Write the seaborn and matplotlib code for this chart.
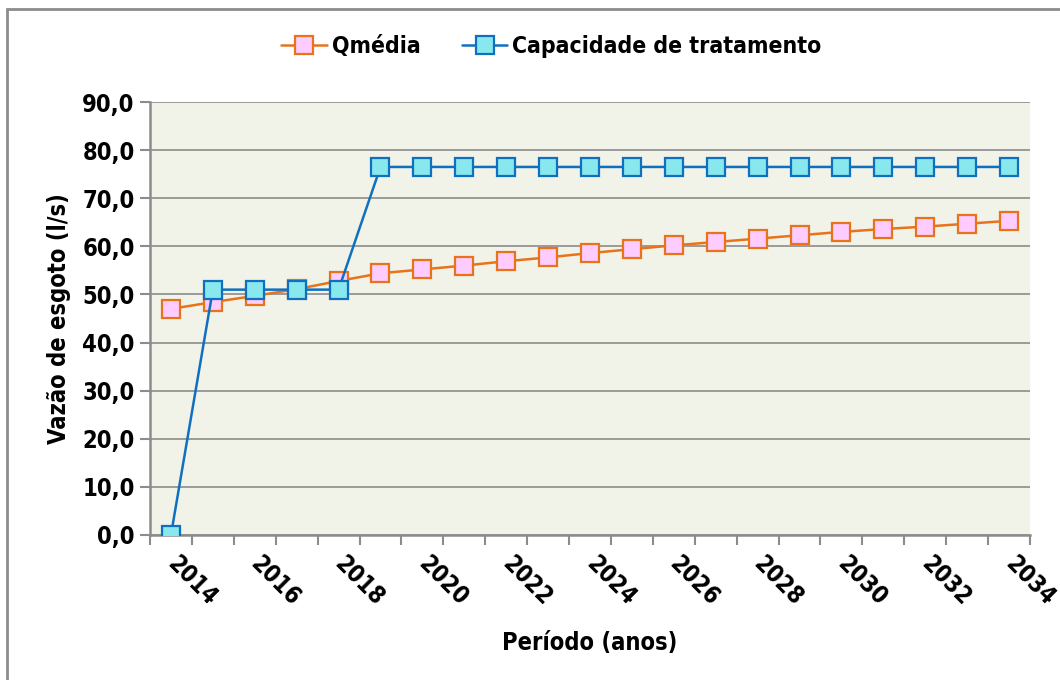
import matplotlib
matplotlib.use("Agg")
import matplotlib.pyplot as plt
import matplotlib.font_manager as fm
from matplotlib.ticker import FixedLocator, FuncFormatter
from matplotlib.patches import Rectangle
import seaborn as sns
import pandas as pd

years = list(range(2014, 2035))
qmedia = [47.0, 48.4, 49.7, 51.1, 52.8, 54.4, 55.2, 56.0, 56.9, 57.7, 58.6,
          59.4, 60.2, 60.9, 61.6, 62.3, 63.0, 63.6, 64.1, 64.7, 65.3]
capacidade = [0.0, 51.0, 51.0, 51.0, 51.0, 76.5, 76.5, 76.5, 76.5, 76.5, 76.5,
              76.5, 76.5, 76.5, 76.5, 76.5, 76.5, 76.5, 76.5, 76.5, 76.5]
series_names = ["Qmédia", "Capacidade de tratamento"]
yticks = [0, 10, 20, 30, 40, 50, 60, 70, 80, 90]
xlabels_years = list(range(2014, 2035, 2))

sns.set_theme(style="white")
names = {f.name for f in fm.fontManager.ttflist}
stretch = "normal"
if "Liberation Sans Narrow" in names:
    fam = ["Liberation Sans Narrow", "DejaVu Sans"]
else:
    fam = ["DejaVu Sans"]
    stretch = "condensed"
plt.rcParams["font.family"] = fam
plt.rcParams["font.weight"] = "bold"
plt.rcParams["font.stretch"] = stretch
for k in ["text.color", "axes.labelcolor", "xtick.color", "ytick.color"]:
    plt.rcParams[k] = "black"

df = pd.DataFrame({
    "ano": years * 2,
    "valor": qmedia + capacidade,
    "serie": [series_names[0]] * len(years) + [series_names[1]] * len(years),
})

fig = plt.figure(figsize=(10.6, 6.8), dpi=100)
ax = fig.add_axes([150 / 1060, (680 - 535) / 680, 880 / 1060, 433 / 680])
ax.set_facecolor("#F1F3E8")

palette = {series_names[0]: "#E8731A", series_names[1]: "#1070C0"}
faces = {series_names[0]: "#FFCCFF", series_names[1]: "#88E8EE"}
for name in series_names:
    sub = df[df["serie"] == name]
    sns.lineplot(data=sub, x="ano", y="valor", ax=ax, color=palette[name],
                 lw=1.8, marker="s", markersize=13.5, markerfacecolor=faces[name],
                 markeredgecolor=palette[name], markeredgewidth=1.6,
                 label=name, zorder=3 if name == series_names[1] else 2)

ax.set_xlim(years[0] - 0.5, years[-1] + 0.5)
ax.set_ylim(0, 90)
ax.yaxis.set_major_locator(FixedLocator(yticks))
ax.yaxis.set_major_formatter(FuncFormatter(lambda v, p: f"{v:.1f}".replace(".", ",")))
ax.grid(axis="y", color="#8C8C8C", lw=1.2)
ax.set_axisbelow(True)

ax.xaxis.set_major_locator(FixedLocator(xlabels_years))
ax.set_xticklabels([str(y) for y in xlabels_years], rotation=-45, ha="left",
                   va="center", rotation_mode="anchor")
ax.xaxis.set_minor_locator(FixedLocator([y - 0.5 for y in years] + [years[-1] + 0.5]))
ax.tick_params(axis="x", which="major", length=0, pad=18, labelsize=17)
ax.tick_params(axis="x", which="minor", length=7, width=1.5, color="#8C8C8C", direction="out", bottom=True)
ax.tick_params(axis="y", which="major", length=7, width=1.5, color="#8C8C8C", direction="out", left=True, labelsize=17, pad=4)

for s in ["top", "right"]:
    ax.spines[s].set_visible(False)
for s in ["left", "bottom"]:
    ax.spines[s].set_color("#8C8C8C")
    ax.spines[s].set_linewidth(1.8)

ax.set_xlabel("Período (anos)", fontsize=17, fontweight="bold", labelpad=15)
ax.set_ylabel("Vazão de esgoto (l/s)", fontsize=17, fontweight="bold", labelpad=8)

leg = ax.legend(loc="lower center", bbox_to_anchor=(0.456, 1.055), ncol=2, frameon=False,
                fontsize=16.5, handlelength=2.0, columnspacing=1.8, handletextpad=0.2)

fig.patches.append(Rectangle((7 / 1060, -0.05), 1.1, (680 - 9) / 680 + 0.05,
                             transform=fig.transFigure, fill=False,
                             edgecolor="#8C8C8C", lw=2))

fig.savefig("out.png", dpi=100, facecolor="white")
